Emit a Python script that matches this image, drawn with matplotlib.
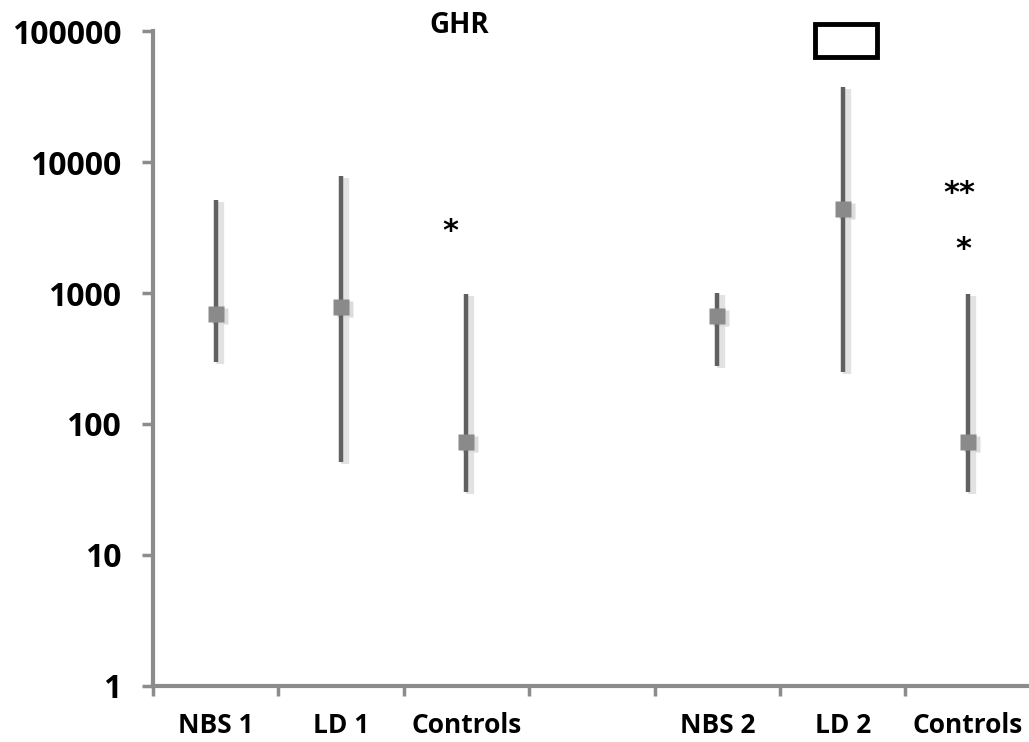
import matplotlib
matplotlib.use("Agg")
import matplotlib.pyplot as plt
import matplotlib.transforms as mtransforms
from matplotlib.patches import Rectangle
import numpy as np

plt.rcParams["font.family"] = ["Open Sans", "DejaVu Sans"]
plt.rcParams["font.weight"] = "bold"

# groups (index 3 is an empty gap slot)
labels = ["NBS 1", "LD 1", "Controls", "", "NBS 2", "LD 2", "Controls"]
positions = [0, 1, 2, 4, 5, 6]
medians = [692, 782, 73, 667, 4380, 73]
lows = [297, 51, 30, 277, 249, 30]
highs = [5130, 7820, 983, 1000, 37400, 983]

# significance marks: (x, y, text)
stars = [(1.87, 3300, "*"), (5.93, 6450, "**"), (5.96, 2410, "*")]

AXIS_GRAY = "#8c8c8c"
BAR_GRAY = "#606060"
MARK_GRAY = "#8a8a8a"

fig = plt.figure(figsize=(10.29, 7.42), dpi=100)
ax = fig.add_axes([0.1487, 0.0755, 0.853, 0.8827])

# soft shadow: a light line shifted a few pixels right
shift = mtransforms.ScaledTranslation(4 / 100, -2 / 100, fig.dpi_scale_trans)
for x, m, lo, hi in zip(positions, medians, lows, highs):
    ax.plot([x, x], [lo, hi], color="#e2e2e2", lw=6, solid_capstyle="butt",
            transform=ax.transData + shift, zorder=1)
    ax.plot([x], [m], marker="s", ms=12, color="#dcdcdc", mec="none",
            transform=ax.transData + shift, zorder=1)
    ax.plot([x, x], [lo, hi], color=BAR_GRAY, lw=3.2, solid_capstyle="butt", zorder=2)
    ax.plot([x], [m], marker="s", ms=12, color=MARK_GRAY, mec="none", zorder=3)

for x, y, t in stars:
    ax.annotate(t, (x, y), xytext=(0, -4.5), textcoords="offset points",
                ha="center", va="center", fontsize=22, fontweight="bold",
                color="black", family="DejaVu Sans")

ax.set_yscale("log")
ax.set_ylim(1, 100000)
ax.set_xlim(-0.5, 6.5)

ax.set_yticks([1, 10, 100, 1000, 10000, 100000])
ax.set_yticklabels(["1", "10", "100", "1000", "10000", "100000"])
ax.yaxis.set_minor_locator(matplotlib.ticker.NullLocator())
ax.tick_params(axis="y", which="major", length=8, width=2.5, color=AXIS_GRAY,
               labelsize=23, pad=15)

ax.set_xticks(np.arange(-0.5, 6.6, 1.0))
ax.set_xticklabels([])
ax.set_xticks(np.arange(len(labels)), minor=True)
ax.set_xticklabels(labels, minor=True)
ax.tick_params(axis="x", which="major", length=7, width=2.5, color=AXIS_GRAY)
ax.tick_params(axis="x", which="minor", length=0, labelsize=19, pad=19)

for s in ["top", "right"]:
    ax.spines[s].set_visible(False)
for s in ["left", "bottom"]:
    ax.spines[s].set_color(AXIS_GRAY)
    ax.spines[s].set_linewidth(3)

fig.text(0.446, 0.966, "GHR", ha="center", va="center", fontsize=20, fontweight="bold")

ax.add_patch(Rectangle((0.754, 0.96), 0.0706, 0.05, transform=ax.transAxes,
                       fill=False, edgecolor="black", lw=3.5, clip_on=False))

fig.savefig("out.png", dpi=100)
